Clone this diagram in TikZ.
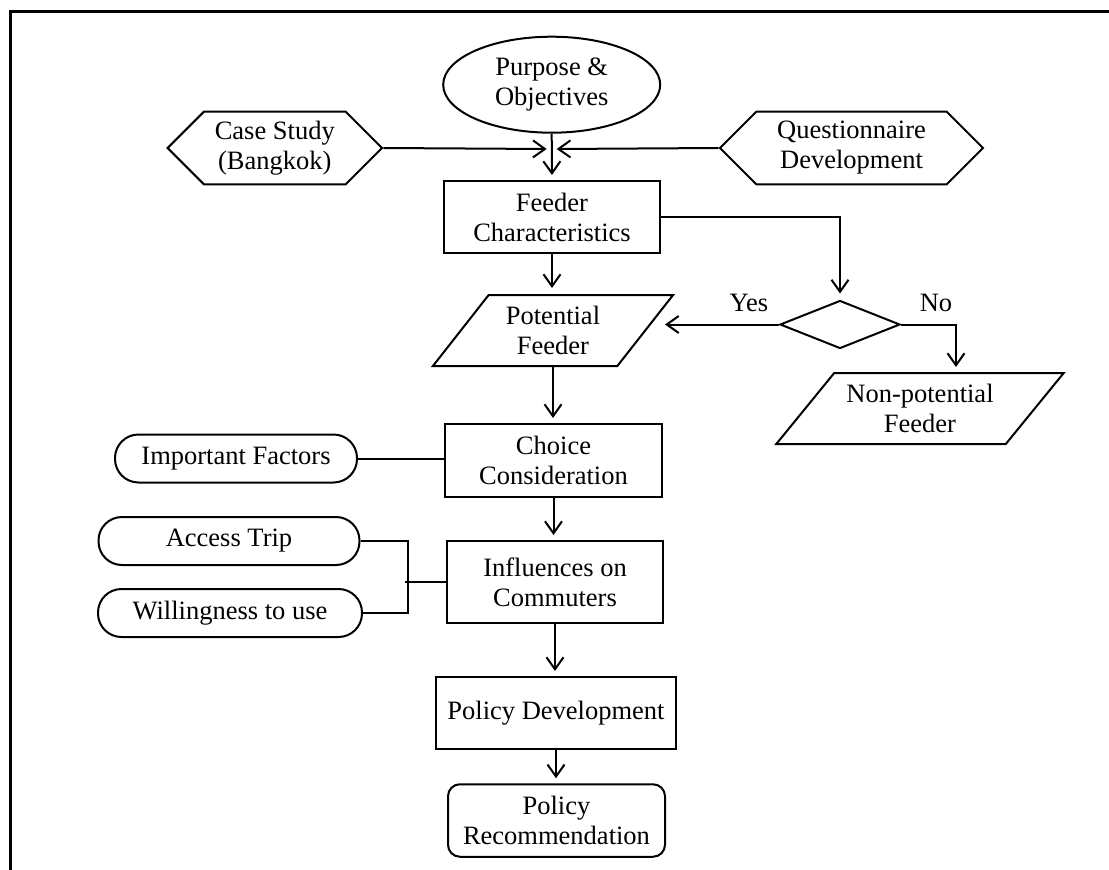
\documentclass[tikz,border=0pt]{standalone}
\usepackage{fontspec}
\setmainfont{Liberation Serif}
\usetikzlibrary{shapes.geometric,shapes.symbols,arrows.meta,calc}
\begin{document}
\begin{tikzpicture}[x=1pt,y=-1pt,
  every node/.style={font=\fontsize{26.5}{30}\selectfont, align=center, inner sep=0pt},
  outline/.style={draw, line width=2pt},
  box/.style={outline, rectangle},
  pill/.style={outline, rectangle, rounded corners=23.5pt, minimum height=48pt},
  hexa/.style={outline, signal, signal to=west and east, signal pointer angle=90, minimum height=72.6pt},
  para/.style={outline, trapezium, trapezium stretches=true, minimum height=71pt},
  link/.style={line width=2pt},
  flow/.style={link, -{Straight Barb[length=12pt,width=17pt]}},
  lbl/.style={anchor=base}
  ]
\useasboundingbox (0,0) rectangle (1109,870);

% outer frame
\draw[line width=2.5pt] (1109,11.5) -- (10.5,11.5) -- (10.5,870);

% top row
\node[outline, ellipse, minimum width=217pt, minimum height=96pt] (purpose) at (551.7,84.7) {Purpose \&\\Objectives};
\node[hexa, minimum width=214.4pt] (case) at (274.8,148) {Case Study\\(Bangkok)};
\node[hexa, minimum width=263pt] (quest) at (851.5,148) {Questionnaire\\Development};
\coordinate (jl) at (546.7,149);
\coordinate (jr) at (556.7,149);

% main column
\node[box, minimum width=216pt, minimum height=72pt] (feeder) at (552,217) {Feeder\\Characteristics};
\node[para, trapezium left angle=50, trapezium right angle=130, minimum width=240.6pt] (potential) at (553,330.5) {Potential\\Feeder};
\node[outline, diamond, minimum width=120pt, minimum height=48pt] (dec) at (840,324.5) {};
\node[para, trapezium left angle=44.4, trapezium right angle=135.6, minimum width=288.3pt] (nonpot) at (920,408.5) {Non-potential\\Feeder};
\node[box, minimum width=217pt, minimum height=73pt] (choice) at (553.5,460.5) {Choice\\Consideration};
\node[box, minimum width=216pt, minimum height=82pt] (influ) at (555,582) {Influences on\\Commuters};
\node[box, minimum width=240pt, minimum height=72pt] (poldev) at (556,713) {Policy Development};
\node[outline, rectangle, rounded corners=12pt, minimum width=217pt, minimum height=72.5pt] (polrec) at (556.5,820.5) {Policy\\Recommendation};

% side factors
\node[pill, minimum width=242pt] (important) at (236,458.5) {Important Factors};
\node[pill, minimum width=261pt] (access) at (229,541) {Access Trip};
\node[pill, minimum width=264pt] (willing) at (230,613) {Willingness to use};

% connectors
\draw[flow] (case.east) -- (jl);
\draw[flow] (quest.west) -- (jr);
\draw[flow, shorten >=5pt] (purpose.south) -- (feeder.north);
\draw[flow, shorten >=6pt] (feeder.east) -| (dec.north);
\draw[flow, shorten >=6pt] (feeder.south) -- (feeder.south |- potential.north);

\coordinate (yesend) at (665,324.5);
\coordinate (noturn) at (956,324.5);
\draw[flow] (dec.west) -- (yesend);
\draw[flow, shorten >=5pt] (dec.east) -- (noturn) -- (noturn |- nonpot.north);
\node[lbl] (yes) at (749,311.7) {Yes};
\node[lbl] (no) at (936,311.7) {No};

\draw[flow, shorten >=5pt] (potential.south) -- (potential.south |- choice.north);
\draw[link] (important.east) -- (important.east -| choice.west);
\draw[flow, shorten >=5pt] (choice.south) -- (choice.south |- influ.north);

\coordinate (bk) at (408,541);
\draw[link] (access.east) -- (bk) -- (bk |- willing.east) -- (willing.east);
\draw[link] (405,582) -- (influ.west);

\draw[flow, shorten >=5pt] (influ.south) -- (influ.south |- poldev.north);
\draw[flow, shorten >=5pt] (poldev.south) -- (poldev.south |- polrec.north);
\end{tikzpicture}
\end{document}
